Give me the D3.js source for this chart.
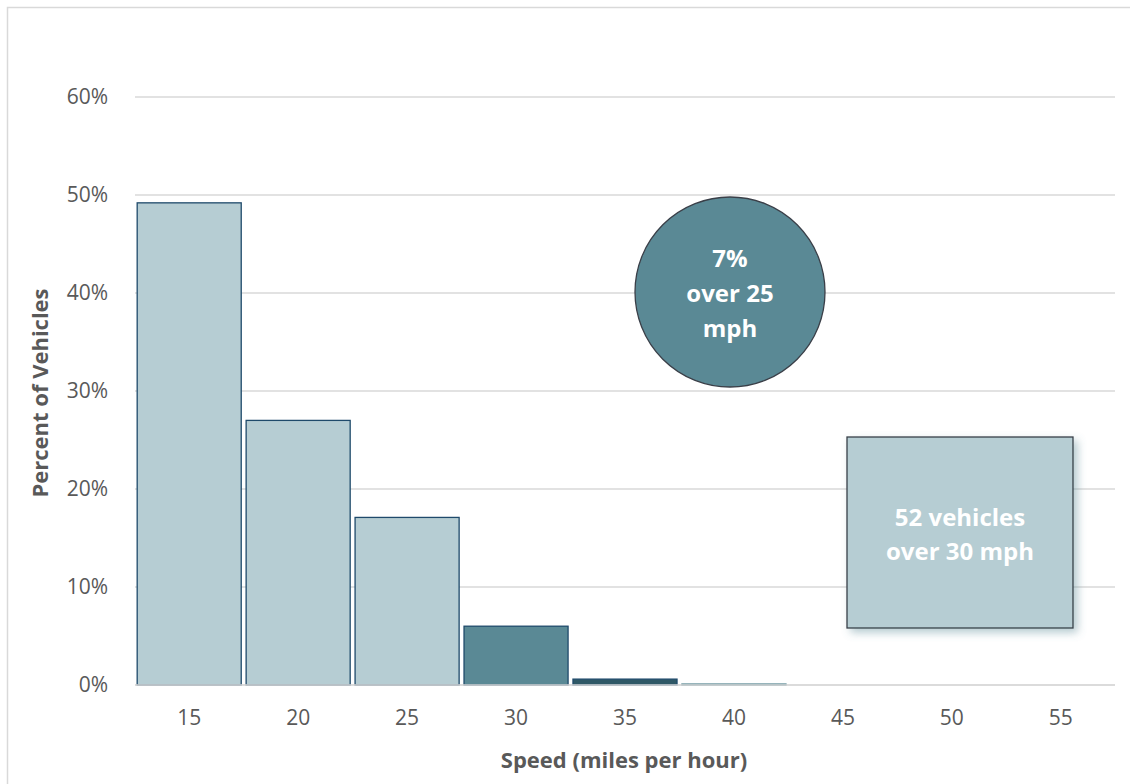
<!DOCTYPE html>
<html>
<head>
<meta charset="utf-8">
<script src="https://cdn.jsdelivr.net/npm/d3@7/dist/d3.min.js"></script>
<style>
  html, body { margin: 0; padding: 0; background: #fff; }
  svg { display: block; font-family: "Open Sans", Lato, sans-serif; }
</style>
</head>
<body>
<svg id="chart" width="1130" height="784"></svg>
<script>
// Speed distribution (percent of vehicles per 5 mph bin)
const speeds = ["15", "20", "25", "30", "35", "40", "45", "50", "55"];
const percents = [49.2, 27.0, 17.1, 6.0, 0.6, 0.1, 0, 0, 0];
const yTicks = [0, 10, 20, 30, 40, 50, 60];
const circleLines = ["7%", "over 25", "mph"];
const boxLines = ["52 vehicles", "over 30 mph"];

const svg = d3.select("#chart");
const margin = { left: 135, right: 15, top: 97, bottom: 99 };
const W = 1130, H = 784;
const FONT = "'Open Sans', Lato, sans-serif";

const x = d3.scaleBand().domain(speeds).range([margin.left, W - margin.right]).paddingInner(0.045).paddingOuter(0.02);
const y = d3.scaleLinear().domain([0, 60]).range([H - margin.bottom, margin.top]);

const barFill = d => (+d >= 30 ? (+d === 35 ? "#2f5866" : "#5a8995") : "#b6cdd3");

// Outer frame
svg.append("rect").attr("x", 7.5).attr("y", 7.5).attr("width", 1140).attr("height", 800)
  .attr("fill", "none").attr("stroke", "#d9d9d9").attr("stroke-width", 1.5);

// Shadow filter for the callout box
const defs = svg.append("defs");
const f = defs.append("filter").attr("id", "shadow").attr("x", "-20%").attr("y", "-20%").attr("width", "150%").attr("height", "150%");
f.append("feDropShadow").attr("dx", 4).attr("dy", 4).attr("stdDeviation", 4)
  .attr("flood-color", "#5a8995").attr("flood-opacity", 0.45);

// Gridlines
svg.append("g").selectAll("line").data(yTicks).join("line")
  .attr("x1", margin.left).attr("x2", W - margin.right)
  .attr("y1", d => y(d)).attr("y2", d => y(d))
  .attr("stroke", "#d9d9d9").attr("stroke-width", 1.3);

// Y axis labels
const yAxis = svg.append("g").attr("transform", `translate(${margin.left - 24},0)`)
  .call(d3.axisLeft(y).tickValues(yTicks).tickFormat(d => d + "%").tickSize(0));
yAxis.select(".domain").remove();
yAxis.selectAll("text").attr("font-size", 21).attr("fill", "#595959").attr("font-family", FONT);

// X axis labels
const xAxis = svg.append("g").attr("transform", `translate(0,${y(0) + 22})`)
  .call(d3.axisBottom(x).tickSize(0));
xAxis.select(".domain").remove();
xAxis.selectAll("text").attr("font-size", 21).attr("fill", "#595959").attr("font-family", FONT);

// Bars
svg.append("g").selectAll("rect").data(speeds.map((s, i) => ({ s, v: percents[i] })).filter(d => d.v > 0))
  .join("rect")
  .attr("x", d => x(d.s))
  .attr("width", x.bandwidth())
  .attr("y", d => y(d.v))
  .attr("height", d => y(0) - y(d.v))
  .attr("fill", d => barFill(d.s))
  .attr("stroke", d => (d.v < 0.3 ? "#5a8995" : "#1f4a6b"))
  .attr("stroke-width", 1.3);

// Baseline
svg.append("line").attr("x1", margin.left).attr("x2", W - margin.right)
  .attr("y1", y(0)).attr("y2", y(0)).attr("stroke", "#d9d9d9").attr("stroke-width", 1.3);

// Axis titles
svg.append("text").attr("x", 624).attr("y", 768).attr("text-anchor", "middle")
  .attr("font-size", 22).attr("font-weight", "bold").attr("fill", "#595959")
  .text("Speed (miles per hour)");
svg.append("text").attr("transform", `translate(48,${393}) rotate(-90)`).attr("text-anchor", "middle")
  .attr("font-size", 22).attr("font-weight", "bold").attr("fill", "#595959")
  .text("Percent of Vehicles");

// Circle callout
const cx = 730, cy = 292, r = 95;
svg.append("circle").attr("cx", cx).attr("cy", cy).attr("r", r)
  .attr("fill", "#5a8995").attr("stroke", "#3a3f48").attr("stroke-width", 1.3);
svg.append("text").attr("text-anchor", "middle").attr("font-size", 24).attr("font-weight", "bold").attr("fill", "#fff")
  .selectAll("tspan").data(circleLines).join("tspan")
  .attr("x", cx).attr("y", (d, i) => 267 + i * 35)
  .text(d => d);

// Box callout
const bx = 847, by = 437, bw = 226, bh = 191;
svg.append("rect").attr("x", bx).attr("y", by).attr("width", bw).attr("height", bh)
  .attr("fill", "#b6cdd3").attr("stroke", "#3a3f48").attr("stroke-width", 1.3)
  .attr("filter", "url(#shadow)");
svg.append("text").attr("text-anchor", "middle").attr("font-size", 24).attr("font-weight", "bold").attr("fill", "#fff")
  .selectAll("tspan").data(boxLines).join("tspan")
  .attr("x", bx + bw / 2).attr("y", (d, i) => 526 + i * 34)
  .text(d => d);
</script>
</body>
</html>
